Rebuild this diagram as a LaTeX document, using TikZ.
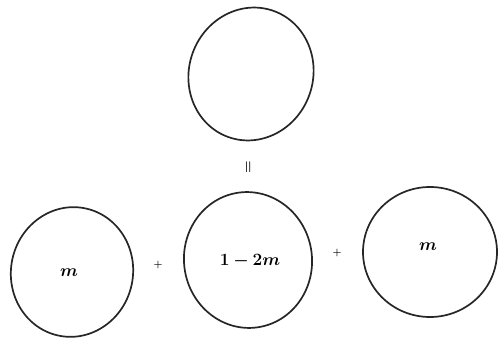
\documentclass[tikz,border=0pt]{standalone}
\usepackage{bm}
\begin{document}
\begin{tikzpicture}[x=1pt,y=-1pt,
  ring/.style={draw=black!85,line width=1.7pt},
  lbl/.style={font=\fontsize{17}{19}\selectfont},
  op/.style={font=\fontsize{10}{11}\selectfont,inner sep=0pt}]
\useasboundingbox (0,0) rectangle (498,344);
\draw[ring] (251,74) ellipse[x radius=62,y radius=67,rotate=-20];
\node[rotate=90,font=\fontsize{15}{16}\selectfont,inner sep=0pt] (eq) at (249,167) {$\bm{=}$};
\draw[ring] (72,272) ellipse[x radius=61,y radius=65,rotate=-12];
\node[lbl] (m1) at (69,273) {$\bm{m}$};
\node[op] (p1) at (158,265) {$\bm{+}$};
\draw[ring] (248,260) ellipse[x radius=64,y radius=68,rotate=8];
\node[lbl] (m2) at (250,261) {$\bm{1-2m}$};
\node[op] (p2) at (337,253) {$\bm{+}$};
\draw[ring] (430,252) ellipse[x radius=67,y radius=65];
\node[lbl] (m3) at (428,247) {$\bm{m}$};
\end{tikzpicture}
\end{document}
